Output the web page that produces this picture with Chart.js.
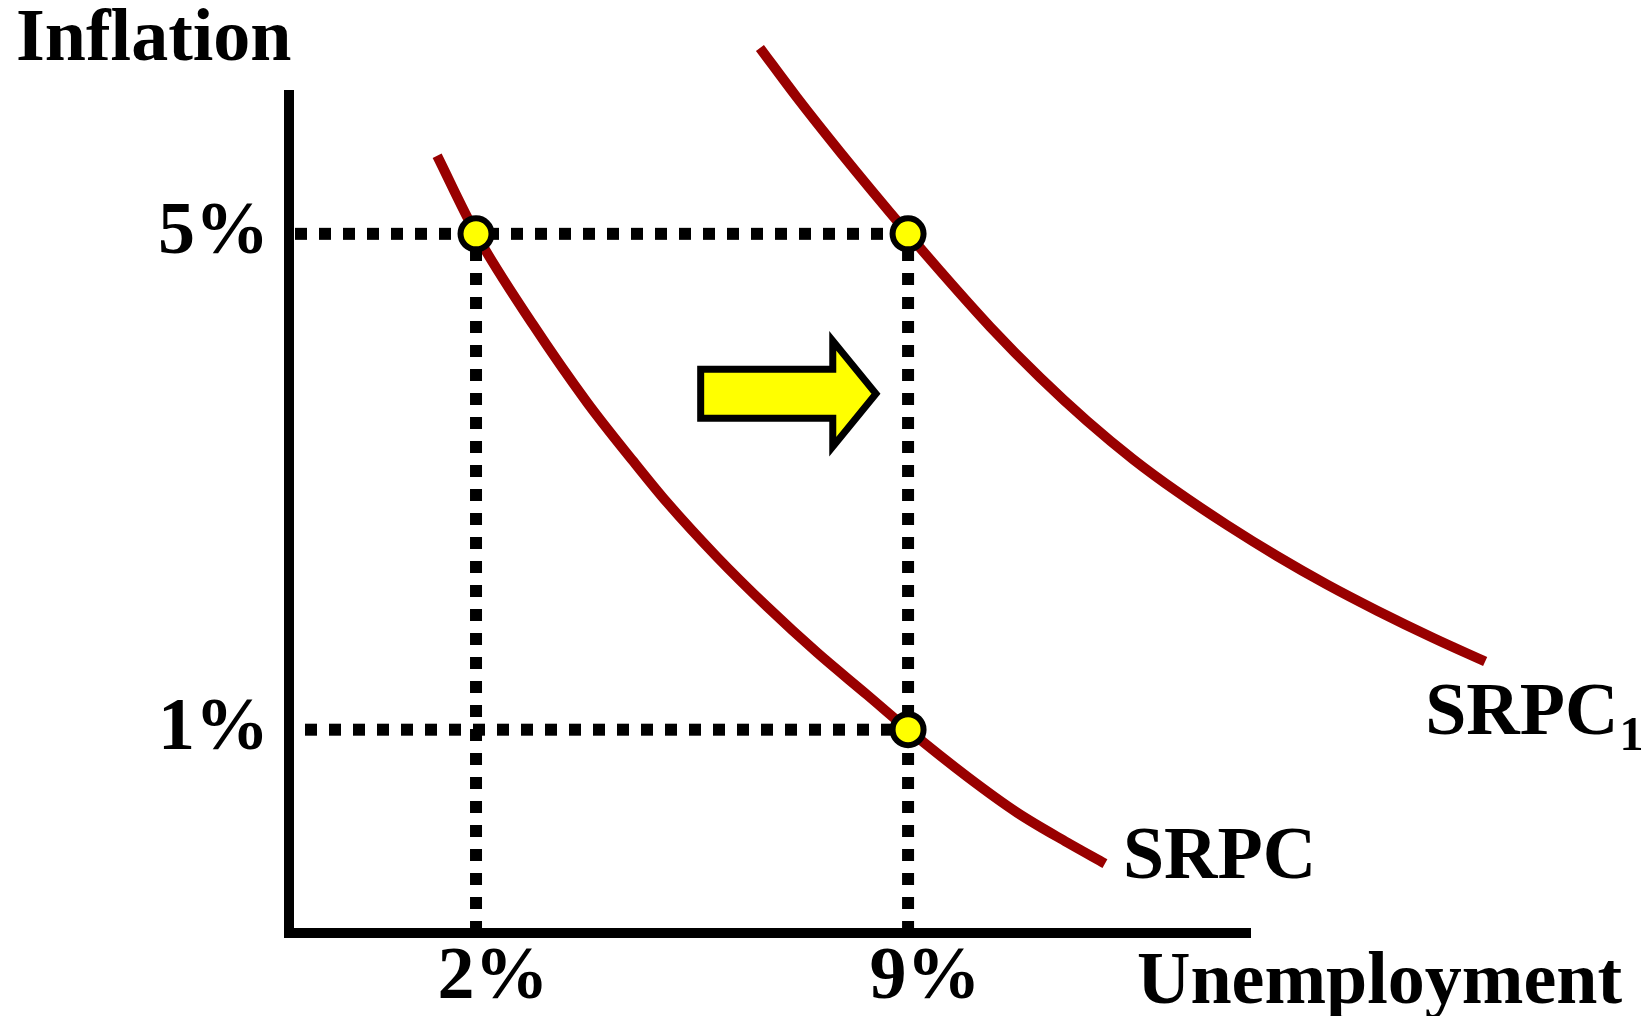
<!DOCTYPE html>
<html lang="en">
<head>
<meta charset="UTF-8">
<title>SRPC shift</title>
<style>
  html, body { margin: 0; padding: 0; background: #fff; }
  #wrap { width: 1651px; height: 1016px; }
</style>
</head>
<body>
<div id="wrap"><canvas id="phillipsChart"></canvas></div>
<script src="https://cdn.jsdelivr.net/npm/chart.js"></script>
<script>
  // short-run Phillips curve (unemployment %, inflation %)
  const srpcX = [1.37, 2, 2.92, 3.80, 4.54, 5.10, 5.91, 6.72, 7.53, 8.34, 9, 9.96, 10.77, 11.58, 12.19];
  const srpcY = [5.63, 5, 4.27, 3.64, 3.17, 2.83, 2.39, 1.99, 1.62, 1.28, 1, 0.62, 0.33, 0.09, -0.08];
  // shifted curve SRPC1
  const srpc1X = [6.60, 7.20, 7.90, 9, 9.52, 10.33, 11.14, 11.90, 12.65, 13.36, 14.17, 14.98, 15.79, 16.60, 17.51, 18.35];
  const srpc1Y = [6.50, 6.10, 5.66, 5, 4.70, 4.25, 3.84, 3.49, 3.18, 2.92, 2.65, 2.40, 2.17, 1.96, 1.74, 1.55];
  // highlighted points
  const pointX = [2, 9, 9];
  const pointY = [5, 5, 1];
  // dotted guide lines: horizontal ones run from the axis to guideHEnd, vertical ones from the axis up to guideVEnd
  const guideHY = [5, 1];
  const guideHEnd = [9, 9];
  const guideVX = [2, 9];
  const guideVEnd = [5, 5];
  // ticks
  const xTicks = [2, 9];
  const xTickLabels = ['2%', '9%'];
  const yTicks = [1, 5];
  const yTickLabels = ['1%', '5%'];
  // axis ranges
  const xMin = -1.03, xMax = 14.54;
  const yMin = -0.64, yMax = 6.12;
  // the shift arrow, in data units
  const arrowTail = 5.64, arrowNeck = 7.78, arrowTip = 8.48;
  const arrowY = 3.71, arrowBody = 0.198, arrowHead = 0.427;

  const serif = '"Liberation Serif", "Times New Roman", serif';
  const toXY = (xs, ys) => xs.map((x, i) => ({ x: x, y: ys[i] }));

  const datasets = [];
  datasets.push({
    label: 'points',
    data: toXY(pointX, pointY),
    showLine: false,
    pointRadius: 15.5,
    pointBorderWidth: 6,
    pointBackgroundColor: '#ffff00',
    pointBorderColor: '#000',
    clip: false
  });
  const guide = (data, offset) => ({
    data: data,
    showLine: true,
    borderColor: '#000',
    borderWidth: 12,
    borderDash: [12, 12],
    borderDashOffset: offset,
    pointRadius: 0,
    clip: false
  });
  guideHY.forEach((y, i) => datasets.push(guide([{ x: xMin, y: y }, { x: guideHEnd[i], y: y }], i === 0 ? 18 : 8)));
  guideVX.forEach((x, i) => datasets.push(guide([{ x: x, y: yMin }, { x: x, y: guideVEnd[i] }], 0)));
  const curve = (label, xs, ys) => ({
    label: label,
    data: toXY(xs, ys),
    showLine: true,
    borderColor: '#990000',
    borderWidth: 10,
    pointRadius: 0,
    cubicInterpolationMode: 'monotone',
    clip: false
  });
  datasets.push(curve('SRPC', srpcX, srpcY));
  datasets.push(curve('SRPC1', srpc1X, srpc1Y));

  const annotations = {
    id: 'annotations',
    afterDraw(chart) {
      const ctx = chart.ctx;
      const xs = chart.scales.x, ys = chart.scales.y;
      ctx.save();

      // arrow
      const xt = xs.getPixelForValue(arrowTail), xn = xs.getPixelForValue(arrowNeck), xp = xs.getPixelForValue(arrowTip);
      const yc = ys.getPixelForValue(arrowY);
      const b = ys.getPixelForValue(arrowY - arrowBody) - yc;
      const h = ys.getPixelForValue(arrowY - arrowHead) - yc;
      ctx.beginPath();
      ctx.moveTo(xt, yc - b);
      ctx.lineTo(xn, yc - b);
      ctx.lineTo(xn, yc - h);
      ctx.lineTo(xp, yc);
      ctx.lineTo(xn, yc + h);
      ctx.lineTo(xn, yc + b);
      ctx.lineTo(xt, yc + b);
      ctx.closePath();
      ctx.fillStyle = '#ffff00';
      ctx.fill();
      ctx.lineWidth = 7;
      ctx.strokeStyle = '#000';
      ctx.stroke();

      // axis titles
      ctx.fillStyle = '#000';
      ctx.textBaseline = 'alphabetic';
      ctx.textAlign = 'left';
      ctx.font = 'bold 74px ' + serif;
      ctx.fillText('Inflation', 16, 60);
      ctx.fillText('Unemployment', 1137, 1003);

      // curve labels, next to the end of each curve
      const n0 = srpcX.length - 1;
      const e0x = xs.getPixelForValue(srpcX[n0]), e0y = ys.getPixelForValue(srpcY[n0]);
      ctx.fillText('SRPC', e0x + 18, e0y + 14);

      const n1 = srpc1X.length - 1;
      const e1x = xs.getPixelForValue(srpc1X[n1]), e1y = ys.getPixelForValue(srpc1Y[n1]);
      const lx = e1x - 60, ly = e1y + 72;
      ctx.fillText('SRPC', lx, ly);
      const w = ctx.measureText('SRPC').width;
      ctx.font = 'bold 48px ' + serif;
      ctx.fillText('1', lx + w + 1, ly + 16);

      ctx.restore();
    }
  };

  const tickFont = { family: serif, size: 74, weight: 'bold', lineHeight: 1.2 };

  new Chart(document.getElementById('phillipsChart'), {
    type: 'scatter',
    data: { datasets: datasets },
    options: {
      responsive: true,
      maintainAspectRatio: false,
      animation: false,
      events: [],
      layout: { padding: { top: 95, right: 401, bottom: 0, left: 0 } },
      plugins: {
        legend: { display: false },
        tooltip: { enabled: false }
      },
      scales: {
        x: {
          type: 'linear',
          bounds: 'data',
          afterDataLimits: s => { s.min = xMin; s.max = xMax; },
          afterBuildTicks: s => { s.ticks = xTicks.map(v => ({ value: v })); },
          afterFit: s => { s.height = 1016 - 933; },
          grid: { display: false, drawTicks: false },
          border: { display: true, color: '#000', width: 10 },
          ticks: {
            font: tickFont,
            color: '#000',
            padding: 1,
            labelOffset: 17,
            maxRotation: 0,
            autoSkip: false,
            callback: v => xTickLabels[xTicks.indexOf(v)]
          }
        },
        y: {
          type: 'linear',
          bounds: 'data',
          min: yMin,
          max: yMax,
          afterBuildTicks: s => { s.ticks = yTicks.map(v => ({ value: v })); },
          afterFit: s => { s.width = 289; },
          grid: { display: false, drawTicks: false },
          border: { display: true, color: '#000', width: 10 },
          ticks: {
            font: tickFont,
            color: '#000',
            padding: 20,
            autoSkip: false,
            callback: v => yTickLabels[yTicks.indexOf(v)]
          }
        }
      }
    },
    plugins: [annotations]
  });
</script>
</body>
</html>
